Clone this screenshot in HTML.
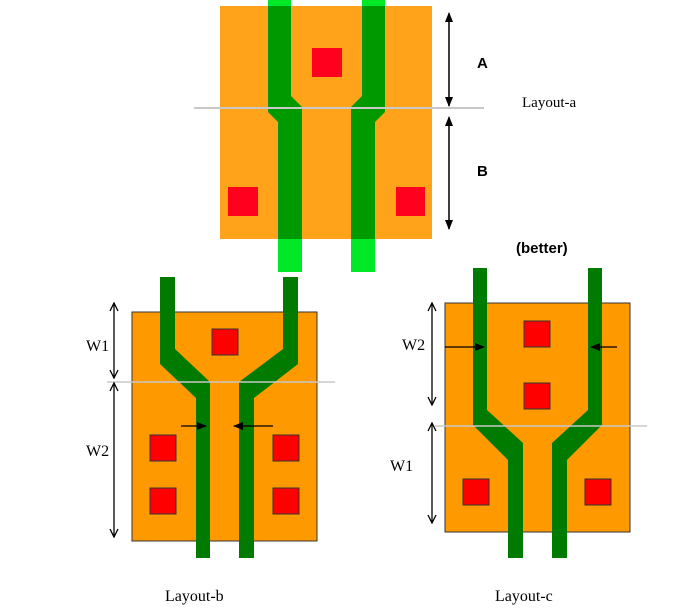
<!DOCTYPE html>
<html><head><style>body{margin:0;background:#fff}svg{display:block}</style></head><body>
<svg width="682" height="614" viewBox="0 0 682 614" xmlns="http://www.w3.org/2000/svg">
<defs>
<marker id="ah" markerWidth="10" markerHeight="10" refX="9" refY="5" orient="auto" markerUnits="userSpaceOnUse"><path d="M1,1 L9,5 L1,9" fill="none" stroke="#000" stroke-width="1.3"/></marker>
<marker id="as" markerWidth="10" markerHeight="8" refX="9" refY="4" orient="auto" markerUnits="userSpaceOnUse"><path d="M0,0 L10,4 L0,8 Z" fill="#000"/></marker>
</defs>
<!-- Layout-a -->
<rect x="268" y="0" width="23" height="8" fill="#00e826"/>
<rect x="362" y="0" width="23" height="8" fill="#00e826"/>
<rect x="278" y="238" width="24" height="34" fill="#00e826"/>
<rect x="351" y="238" width="24" height="34" fill="#00e826"/>
<rect x="220" y="6" width="212" height="233" fill="#ffa31a"/>
<polygon points="268,6 291,6 291,96 302,107 302,239 278,239 278,122 268,112" fill="#009900"/>
<polygon points="362,6 385,6 385,112 375,122 375,239 351,239 351,107 362,96" fill="#009900"/>
<rect x="312" y="48" width="30" height="29" fill="#ff001e"/>
<rect x="228" y="187" width="30" height="29" fill="#ff001e"/>
<rect x="396" y="187" width="29" height="29" fill="#ff001e"/>
<line x1="194" y1="108" x2="484" y2="108" stroke="#c8c8c8" stroke-width="2"/>
<line x1="449" y1="15" x2="449" y2="106" stroke="#000" stroke-width="1.3" marker-end="url(#as)"/>
<line x1="449" y1="106" x2="449" y2="13" stroke="#000" stroke-width="1.3" marker-end="url(#as)"/>
<line x1="449" y1="119" x2="449" y2="229" stroke="#000" stroke-width="1.3" marker-end="url(#as)"/>
<line x1="449" y1="229" x2="449" y2="117" stroke="#000" stroke-width="1.3" marker-end="url(#as)"/>
<g font-family="Liberation Sans, sans-serif" font-weight="bold" font-size="15">
<text x="477" y="68">A</text><text x="477" y="176">B</text><text x="516" y="253">(better)</text></g>
<text x="522" y="107" font-family="Liberation Serif, serif" font-size="15">Layout-a</text>
<!-- Layout-b -->
<rect x="132" y="312" width="185" height="229" fill="#ff9900" stroke="#333" stroke-width="1"/>
<polygon points="160,277 175,277 175,349 210,382 210,558 196,558 196,398 160,364" fill="#007b00"/>
<polygon points="283,277 298,277 298,364 254,398 254,558 239,558 239,382 283,349" fill="#007b00"/>
<g fill="#ff0000" stroke="#333" stroke-width="1">
<rect x="212" y="329" width="26" height="26"/>
<rect x="150" y="435" width="26" height="26"/><rect x="273" y="435" width="26" height="26"/>
<rect x="150" y="488" width="26" height="26"/><rect x="273" y="488" width="26" height="26"/></g>
<line x1="107" y1="382" x2="335" y2="382" stroke="#c8c8c8" stroke-width="1.5"/>
<g stroke="#000" stroke-width="1.3">
<line x1="114" y1="340" x2="114" y2="303" marker-end="url(#ah)"/><line x1="114" y1="340" x2="114" y2="378" marker-end="url(#ah)"/>
<line x1="114" y1="460" x2="114" y2="383" marker-end="url(#ah)"/><line x1="114" y1="460" x2="114" y2="537" marker-end="url(#ah)"/>
<line x1="181" y1="426" x2="206" y2="426" marker-end="url(#as)"/>
<line x1="273" y1="426" x2="234" y2="426" marker-end="url(#as)"/>
</g>
<!-- Layout-c -->
<rect x="445" y="303" width="185" height="229" fill="#ff9900" stroke="#333" stroke-width="1"/>
<polygon points="473,268 487,268 487,410 523,443 523,558 508,558 508,460 473,425" fill="#007b00"/>
<polygon points="588,268 602,268 602,425 567,460 567,558 552,558 552,443 588,410" fill="#007b00"/>
<g fill="#ff0000" stroke="#333" stroke-width="1">
<rect x="524" y="321" width="26" height="26"/><rect x="524" y="383" width="26" height="26"/>
<rect x="463" y="479" width="26" height="26"/><rect x="585" y="479" width="26" height="26"/></g>
<line x1="435" y1="426" x2="647" y2="426" stroke="#c8c8c8" stroke-width="1.5"/>
<g stroke="#000" stroke-width="1.3">
<line x1="432" y1="350" x2="432" y2="303" marker-end="url(#ah)"/><line x1="432" y1="350" x2="432" y2="405" marker-end="url(#ah)"/>
<line x1="432" y1="470" x2="432" y2="423" marker-end="url(#ah)"/><line x1="432" y1="470" x2="432" y2="523" marker-end="url(#ah)"/>
<line x1="445" y1="347" x2="484" y2="347" marker-end="url(#as)"/>
<line x1="617" y1="347" x2="591" y2="347" marker-end="url(#as)"/>
</g>
<g font-family="Liberation Serif, serif" font-size="16">
<text x="86" y="351">W1</text><text x="86" y="456">W2</text>
<text x="402" y="350">W2</text><text x="390" y="471">W1</text>
<text x="165" y="601">Layout-b</text><text x="495" y="601">Layout-c</text></g>
</svg>
</body></html>
